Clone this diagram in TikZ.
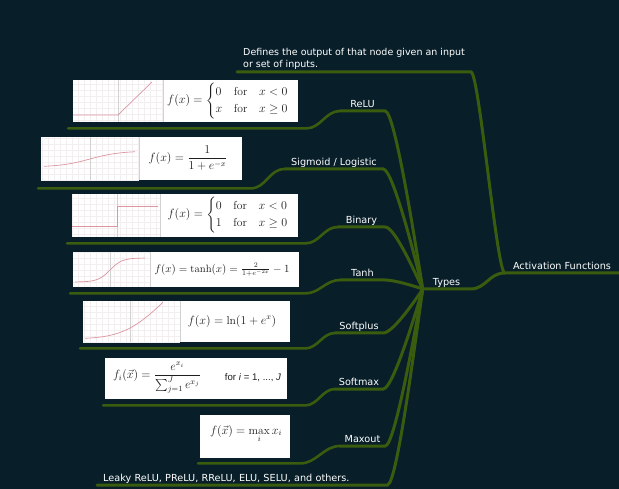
\documentclass[tikz,border=0pt]{standalone}
\usepackage{fontspec}
\usepackage{amsmath}
\usetikzlibrary{calc}
\newfontfamily\mapfont{DejaVu Sans}
\newfontfamily\helvfont{Liberation Sans}
\definecolor{mapbg}{RGB}{8,30,41}
\definecolor{mapgreen}{RGB}{58,92,14}
\definecolor{gridpink}{RGB}{243,238,240}
\definecolor{axisgray}{RGB}{210,210,210}
\definecolor{plotred}{RGB}{220,150,160}
\definecolor{formulagray}{RGB}{30,30,30}

\begin{document}
\begin{tikzpicture}[x=1pt,y=-1pt,
    branch/.style={draw=mapgreen,line width=3pt,line cap=round},
    twig/.style={draw=mapgreen,line width=2.6pt,line cap=round},
    topic/.style={text=white,font=\mapfont\fontsize{9.7}{11}\selectfont,
      inner xsep=0pt,inner ysep=1.5pt,text height=7pt,text depth=2pt,anchor=south},
    note/.style={text=white,font=\mapfont\fontsize{9.5}{12}\selectfont,
      inner xsep=6pt,inner ysep=2pt,align=left,anchor=south west},
    imgbox/.style={fill=white,inner sep=0pt,anchor=north west},
    formula/.style={text=formulagray,inner sep=0pt,font=\fontsize{11.6}{14}\selectfont},
    gridline/.style={draw=gridpink,line width=0.4pt},
    axisline/.style={draw=axisgray,line width=0.5pt},
    plotline/.style={draw=plotred,line width=0.7pt},
  ]

  % background
  \fill[mapbg] (0,0) rectangle (619,489);
  \useasboundingbox (0,0) rectangle (619,489);

  % root and its note
  \node[topic,minimum width=114pt] (root) at (562,273) {Activation Functions};
  \node[note] (defn) at (237,72) {Defines the output of that node given an input\\or set of inputs.};
  \draw[branch] (root.south east) -- (root.south west)
    .. controls +(-8,0) and +(8,0) .. (defn.south east) -- (defn.south west);

  % hub
  \node[topic,minimum width=47pt] (types) at (446.5,289) {Types};
  \draw[branch] (root.south west) .. controls +(-16,0) and +(16,0) .. (types.south east)
    -- (types.south west);

  % type labels
  \node[topic,minimum width=45pt] (relu) at (362.5,111) {ReLU};
  \node[topic,minimum width=98pt] (sigmoid) at (334,169) {Sigmoid / Logistic};
  \node[topic,minimum width=47pt] (binary) at (361.5,227) {Binary};
  \node[topic,minimum width=45pt] (tanh) at (362.5,280) {Tanh};
  \node[topic,minimum width=48pt] (softplus) at (359,333) {Softplus};
  \node[topic,minimum width=48pt] (softmax) at (359,389) {Softmax};
  \node[topic,minimum width=45pt] (maxout) at (362.5,446) {Maxout};
  \node[topic,anchor=south west,inner xsep=6pt,text width=278pt,align=left] (others) at (97,485)
    {Leaky ReLU, PReLU, RReLU, ELU, SELU, and others.};

  % fan from the hub
  \draw[branch] (relu.south west) -- (relu.south east) .. controls +(10,0) and +(-6,-36) .. (types.south west);
  \draw[branch] (sigmoid.south west) -- (sigmoid.south east) .. controls +(10,0) and +(-6,-24) .. (types.south west);
  \draw[branch] (binary.south west) -- (binary.south east) .. controls +(10,0) and +(-6,-12) .. (types.south west);
  \draw[branch] (tanh.south west) -- (tanh.south east) .. controls +(10,0) and +(-6,-2) .. (types.south west);
  \draw[branch] (softplus.south west) -- (softplus.south east) .. controls +(10,0) and +(-6,9) .. (types.south west);
  \draw[branch] (softmax.south west) -- (softmax.south east) .. controls +(10,0) and +(-6,20) .. (types.south west);
  \draw[branch] (maxout.south west) -- (maxout.south east) .. controls +(10,0) and +(-6,31) .. (types.south west);
  \draw[branch] (others.south west) -- (others.south east) .. controls +(10,0) and +(-6,39) .. (types.south west);

  % ReLU picture
  \node[imgbox,minimum width=225pt,minimum height=42pt] (reluimg) at (73,80) {};
  \draw[gridline,step=6pt] (73,122) grid (163,80);
  \draw[axisline] (118,80) -- (118,122);
  \draw[axisline] (163,80) -- (163,122);
  \draw[plotline] (73,115) -- (118,115) -- (152,82);
  \node[formula] (reluf) at (228,101)
    {$f(x)=\begin{cases}0 & \text{for}\quad x<0\\ x & \text{for}\quad x\ge0\end{cases}$};
  \draw[twig] ($(reluimg.south west)+(-5,6)$) -- ($(reluimg.south east)+(8,6)$)
    .. controls +(14,0) and +(-14,0) .. (relu.south west);

  % Sigmoid picture
  \node[imgbox,minimum width=201pt,minimum height=43pt] (sigmoidimg) at (41,137) {};
  \draw[gridline,step=6pt] (41,180) grid (139,137);
  \draw[axisline] (90,137) -- (90,180);
  \draw[axisline] (139,137) -- (139,180);
  \draw[plotline,domain=44:135,samples=40,variable=\t] plot ({\t},{159-8*tanh((\t-90)/30)});
  \node[formula] (sigmoidf) at (188,158) {$\displaystyle f(x)=\frac{1}{1+e^{-x}}$};
  \draw[twig] ($(sigmoidimg.south west)+(-3,8)$) -- ($(sigmoidimg.south east)+(8,8)$)
    .. controls +(16,0) and +(-16,0) .. (sigmoid.south west);

  % Binary picture
  \node[imgbox,minimum width=226pt,minimum height=43pt] (binaryimg) at (72,194) {};
  \draw[gridline,step=6pt] (72,237) grid (160,194);
  \draw[axisline] (117,194) -- (117,237);
  \draw[axisline] (160,194) -- (160,237);
  \draw[plotline] (72,226) -- (117,226) -- (117,206) -- (158,206);
  \node[formula] (binaryf) at (228,215)
    {$f(x)=\begin{cases}0 & \text{for}\quad x<0\\ 1 & \text{for}\quad x\ge0\end{cases}$};
  \draw[twig] ($(binaryimg.south west)+(-5,6)$) -- ($(binaryimg.south east)+(7,6)$)
    .. controls +(14,0) and +(-14,0) .. (binary.south west);

  % Tanh picture
  \node[imgbox,minimum width=226pt,minimum height=35pt] (tanhimg) at (73,252) {};
  \draw[gridline,step=6pt] (73,287) grid (150,252);
  \draw[axisline] (110,252) -- (110,287);
  \draw[axisline] (150,252) -- (150,287);
  \draw[plotline,domain=75:145,samples=40,variable=\t] plot ({\t},{270-12*tanh((\t-110)/12)});
  \node[formula,font=\fontsize{10.6}{13}\selectfont] (tanhf) at (222,270) {$f(x)=\tanh(x)=\frac{2}{1+e^{-2x}}-1$};
  \draw[twig] ($(tanhimg.south west)+(-3,6)$) -- ($(tanhimg.south east)+(6,6)$)
    .. controls +(14,0) and +(-14,0) .. (tanh.south west);

  % Softplus picture
  \node[imgbox,minimum width=207pt,minimum height=41pt] (softplusimg) at (83,301) {};
  \draw[gridline,step=6pt] (83,342) grid (180,301);
  \draw[axisline] (130,301) -- (130,342);
  \draw[axisline] (180,301) -- (180,342);
  \draw[plotline,domain=85:163,samples=40,variable=\t] plot ({\t},{339.1-16*ln(1+exp((\t-130)/15))});
  \node[formula] (softplusf) at (232,321) {$f(x)=\ln(1+e^{x})$};
  \draw[twig] ($(softplusimg.south west)+(-3,6)$) -- ($(softplusimg.south east)+(15,6)$)
    .. controls +(12,0) and +(-12,0) .. (softplus.south west);

  % Softmax picture
  \node[imgbox,minimum width=182pt,minimum height=41pt] (softmaximg) at (105,358) {};
  \node[formula] (softmaxf) at (157,378)
    {$\displaystyle f_i(\vec{x})=\frac{e^{x_i}}{\sum_{j=1}^{J}e^{x_j}}$};
  \node[formula,font=\helvfont\fontsize{9.6}{11}\selectfont] (softmaxcond) at (253,378)
    {for \textit{i} = 1, ..., \textit{J}};
  \draw[twig] ($(softmaximg.south west)+(-2,6)$) -- ($(softmaximg.south east)+(18,6)$)
    .. controls +(12,0) and +(-12,0) .. (softmax.south west);

  % Maxout picture
  \node[imgbox,minimum width=90pt,minimum height=43pt] (maxoutimg) at (200,415) {};
  \node[formula] (maxoutf) at (246,434) {$\displaystyle f(\vec{x})=\max_{i} x_i$};
  \draw[twig] ($(maxoutimg.south west)+(-2,5)$) -- ($(maxoutimg.south east)+(10,5)$)
    .. controls +(16,0) and +(-16,0) .. (maxout.south west);

\end{tikzpicture}
\end{document}
